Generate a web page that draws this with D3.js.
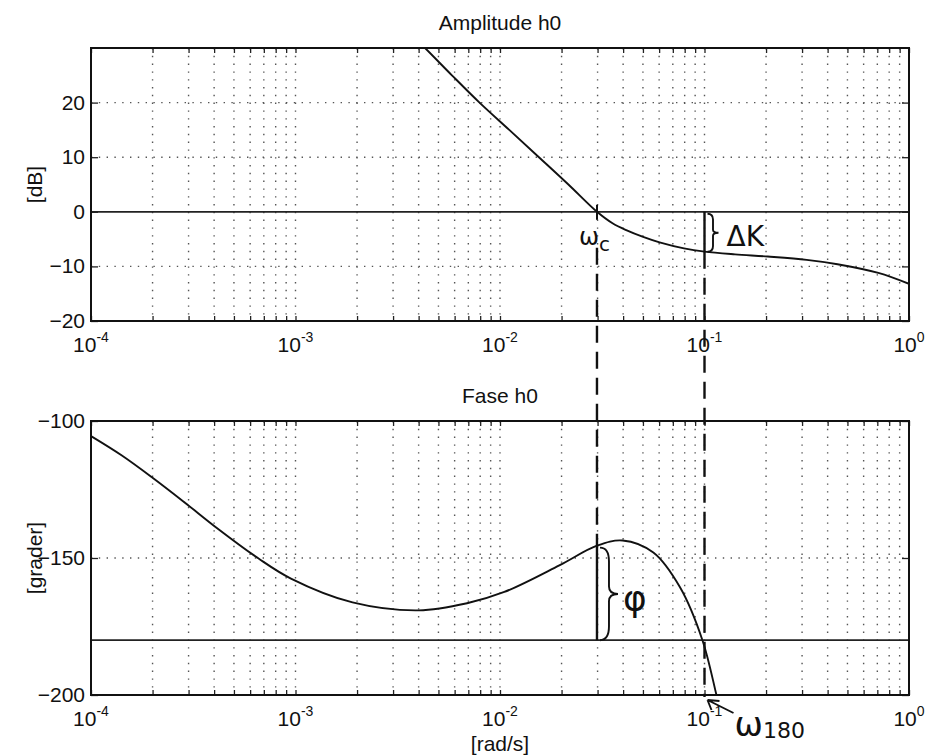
<!DOCTYPE html>
<html>
<head>
<meta charset="utf-8">
<script src="https://cdn.jsdelivr.net/npm/d3@7"></script>
<style>
  body { margin: 0; background: #fff; }
  svg { display: block; font-family: "Liberation Sans", Arial, sans-serif; }
</style>
</head>
<body>
<div id="chart"></div>
<script>
// decades on the frequency axis and their exponent labels
const decades = [1e-4, 1e-3, 1e-2, 1e-1, 1];
const decadeExp = ['-4', '-3', '-2', '-1', '0'];

// amplitude of h0 in dB
const ampFreq = [0.00355, 0.0043, 0.00582, 0.00794, 0.0111, 0.0155, 0.0216, 0.0298, 0.0355, 0.0417, 0.0501, 0.0603, 0.0794, 0.1, 0.141, 0.204, 0.316, 0.447, 0.708, 1];
const ampDb = [33, 30, 25, 20, 15, 10, 5, 0, -2.1, -3.4, -4.6, -5.6, -6.7, -7.3, -7.8, -8.2, -8.8, -9.6, -11.2, -13.2];

// phase of h0 in degrees (grader)
const phaseFreq = [0.0001, 0.000141, 0.0002, 0.000288, 0.000417, 0.00066, 0.00095, 0.0019, 0.004, 0.0069, 0.0105, 0.0195, 0.0298, 0.0398, 0.0562, 0.0759, 0.0977, 0.115, 0.126];
const phaseDeg = [-105.5, -112.5, -120.7, -129.8, -139.3, -150.2, -157.5, -166.2, -169.1, -166.5, -162.4, -152.7, -145.5, -143.6, -148, -160.7, -180, -200.7, -213];

const ampTicks = [-20, -10, 0, 10, 20];
const ampGrid = [-10, 10, 20];
const phaseTicks = [-200, -150, -100];
const phaseGrid = [-150];

// margins read by hand: crossover and the -180 point
const omegaC = 0.0298;
const omega180 = 0.1;
const gainAt180 = -7.3;
const phaseAtC = -145.5;

const width = 928, height = 756;
const fs = 21;
const svg = d3.select('#chart').append('svg').attr('width', width).attr('height', height);

const x = d3.scaleLog().domain([1e-4, 1]).range([91, 909]);
const yAmp = d3.scaleLinear().domain([-20, 30]).range([321, 48]);
const yPh = d3.scaleLinear().domain([-200, -100]).range([695, 421]);

const minorTicks = [];
decades.slice(0, -1).forEach((d) => { for (let k = 1; k <= 9; k++) minorTicks.push(k * d); });
minorTicks.push(1);

function panel(y, yTicks, yGrid, title, ylabel, id) {
  const [y0, y1] = y.range();
  const g = svg.append('g');
  // dotted grid
  g.append('g').selectAll('line').data(minorTicks.slice(1, -1)).join('line')
    .attr('x1', (d) => x(d)).attr('x2', (d) => x(d))
    .attr('y1', y1).attr('y2', y0)
    .attr('stroke', '#555').attr('stroke-width', 1.4).attr('stroke-dasharray', '1.4,6.4');
  g.append('g').selectAll('line').data(yGrid).join('line')
    .attr('x1', x.range()[0]).attr('x2', x.range()[1])
    .attr('y1', (d) => y(d)).attr('y2', (d) => y(d))
    .attr('stroke', '#555').attr('stroke-width', 1.4).attr('stroke-dasharray', '1.4,6.4');

  // tick marks, pointing inwards
  g.append('g').attr('transform', `translate(0,${y0})`)
    .call(d3.axisBottom(x).tickValues(minorTicks).tickSize(-5).tickFormat(''))
    .call((a) => a.select('.domain').remove());
  g.append('g').attr('transform', `translate(0,${y1})`)
    .call(d3.axisTop(x).tickValues(minorTicks).tickSize(-5).tickFormat(''))
    .call((a) => a.select('.domain').remove());
  g.append('g').attr('transform', `translate(${x.range()[0]},0)`)
    .call(d3.axisLeft(y).tickValues(yTicks).tickSize(-7).tickFormat(''))
    .call((a) => a.select('.domain').remove());
  g.append('g').attr('transform', `translate(${x.range()[1]},0)`)
    .call(d3.axisRight(y).tickValues(yTicks).tickSize(-7).tickFormat(''))
    .call((a) => a.select('.domain').remove());
  g.selectAll('.tick line').attr('stroke', '#222').attr('stroke-width', 1.3);

  // y tick labels
  g.append('g').selectAll('text').data(yTicks).join('text')
    .attr('x', x.range()[0] - 6).attr('y', (d) => y(d) + 7)
    .attr('text-anchor', 'end').attr('font-size', fs).attr('fill', '#111')
    .text((d) => (d < 0 ? '\u2212' + Math.abs(d) : d));

  // x tick labels 10^n
  const xl = g.append('g').selectAll('text').data(decades).join('text')
    .attr('x', (d) => x(d)).attr('y', y0 + 31)
    .attr('text-anchor', 'middle').attr('font-size', fs).attr('fill', '#111');
  xl.append('tspan').text('10');
  xl.append('tspan').attr('dy', -10).attr('font-size', 14).text((d, i) => decadeExp[i]);

  g.append('text').attr('x', 500).attr('y', y1 - 18).attr('text-anchor', 'middle')
    .attr('font-size', fs).attr('fill', '#111').text(title);
  g.append('text').attr('transform', `translate(42,${(y0 + y1) / 2}) rotate(-90)`)
    .attr('text-anchor', 'middle').attr('font-size', fs).attr('fill', '#111').text(ylabel);

  svg.append('clipPath').attr('id', id).append('rect')
    .attr('x', x.range()[0]).attr('y', y1).attr('width', x.range()[1] - x.range()[0]).attr('height', y0 - y1);
  return g;
}

const gA = panel(yAmp, ampTicks, ampGrid, 'Amplitude h0', '[dB]', 'clipA');
const gP = panel(yPh, phaseTicks, phaseGrid, 'Fase h0', '[grader]', 'clipP');

// reference lines 0 dB and -180
gA.append('line').attr('x1', x(1e-4)).attr('x2', x(1)).attr('y1', yAmp(0)).attr('y2', yAmp(0))
  .attr('stroke', '#222').attr('stroke-width', 1.7);
gP.append('line').attr('x1', x(1e-4)).attr('x2', x(1)).attr('y1', yPh(-180)).attr('y2', yPh(-180))
  .attr('stroke', '#222').attr('stroke-width', 1.7);

const ampLine = d3.line().x((d, i) => x(ampFreq[i])).y((d) => yAmp(d)).curve(d3.curveCatmullRom.alpha(0.5));
const phLine = d3.line().x((d, i) => x(phaseFreq[i])).y((d) => yPh(d)).curve(d3.curveCatmullRom.alpha(0.5));

gA.append('path').datum(ampDb).attr('d', ampLine).attr('clip-path', 'url(#clipA)')
  .attr('fill', 'none').attr('stroke', '#111').attr('stroke-width', 1.9);
gP.append('path').datum(phaseDeg).attr('d', phLine).attr('clip-path', 'url(#clipP)')
  .attr('fill', 'none').attr('stroke', '#111').attr('stroke-width', 1.9);

// axes boxes
[[yAmp, gA], [yPh, gP]].forEach(([y, g]) => {
  g.append('rect').attr('x', x.range()[0]).attr('y', y.range()[1])
    .attr('width', x.range()[1] - x.range()[0]).attr('height', y.range()[0] - y.range()[1])
    .attr('fill', 'none').attr('stroke', '#111').attr('stroke-width', 2);
});

svg.append('text').attr('x', 500).attr('y', 751).attr('text-anchor', 'middle')
  .attr('font-size', fs).attr('fill', '#111').text('[rad/s]');

// hand-drawn annotations
const ann = svg.append('g').attr('stroke', '#111').attr('fill', 'none');
const xc = x(omegaC), x180 = x(omega180);
ann.append('line').attr('x1', xc).attr('x2', xc).attr('y1', yAmp(0) - 7).attr('y2', yAmp(0) + 8).attr('stroke-width', 2);
ann.append('line').attr('x1', xc).attr('x2', xc).attr('y1', yAmp(0) + 36).attr('y2', yPh(phaseAtC))
  .attr('stroke-width', 2.4).attr('stroke-dasharray', '17,9');
ann.append('line').attr('x1', x180).attr('x2', x180).attr('y1', yAmp(gainAt180)).attr('y2', yPh(-200) + 2)
  .attr('stroke-width', 2.4).attr('stroke-dasharray', '17,9');
ann.append('line').attr('x1', x180).attr('x2', x180).attr('y1', yAmp(0)).attr('y2', yAmp(gainAt180)).attr('stroke-width', 2.4);
ann.append('line').attr('x1', xc).attr('x2', xc).attr('y1', yPh(phaseAtC)).attr('y2', yPh(-180)).attr('stroke-width', 2.4);

function brace(x0, ya, yb, w) {
  const h = yb - ya, m = (ya + yb) / 2;
  return `M${x0},${ya} Q${x0 + w / 2},${ya} ${x0 + w / 2},${ya + h * 0.15} L${x0 + w / 2},${m - h * 0.08} Q${x0 + w / 2},${m} ${x0 + w},${m} Q${x0 + w / 2},${m} ${x0 + w / 2},${m + h * 0.08} L${x0 + w / 2},${yb - h * 0.15} Q${x0 + w / 2},${yb} ${x0},${yb}`;
}
ann.append('path').attr('d', brace(x180 + 3, yAmp(0) + 2, yAmp(gainAt180), 11)).attr('stroke-width', 1.9);
ann.append('path').attr('d', brace(xc + 3, yPh(phaseAtC) + 2, yPh(-180), 18)).attr('stroke-width', 1.9);

// arrow to omega_180
const ax0 = x180 + 3, ay0 = yPh(-200) + 5;
ann.append('path').attr('d', `M${ax0 + 26},${ay0 + 13} L${ax0},${ay0} M${ax0},${ay0} l12,1 M${ax0},${ay0} l4,10`).attr('stroke-width', 1.9);

const hand = svg.append('g').attr('fill', '#111').attr('font-family', '"DejaVu Sans", sans-serif');
const tc = hand.append('text').attr('x', xc - 18).attr('y', yAmp(0) + 33).attr('font-size', 24);
tc.append('tspan').text('\u03c9');
tc.append('tspan').attr('font-size', 20).attr('dy', 6).text('c');
hand.append('text').attr('x', x180 + 22).attr('y', yAmp(0) + 34).attr('font-size', 28).text('\u0394K');
hand.append('text').attr('x', xc + 26).attr('y', yPh(-165) + 12).attr('font-size', 36).text('\u03c6');
const t180 = hand.append('text').attr('x', x180 + 30).attr('y', yPh(-200) + 41).attr('font-size', 34);
t180.append('tspan').text('\u03c9');
t180.append('tspan').attr('font-size', 22).attr('dy', 2).text('180');
</script>
</body>
</html>
